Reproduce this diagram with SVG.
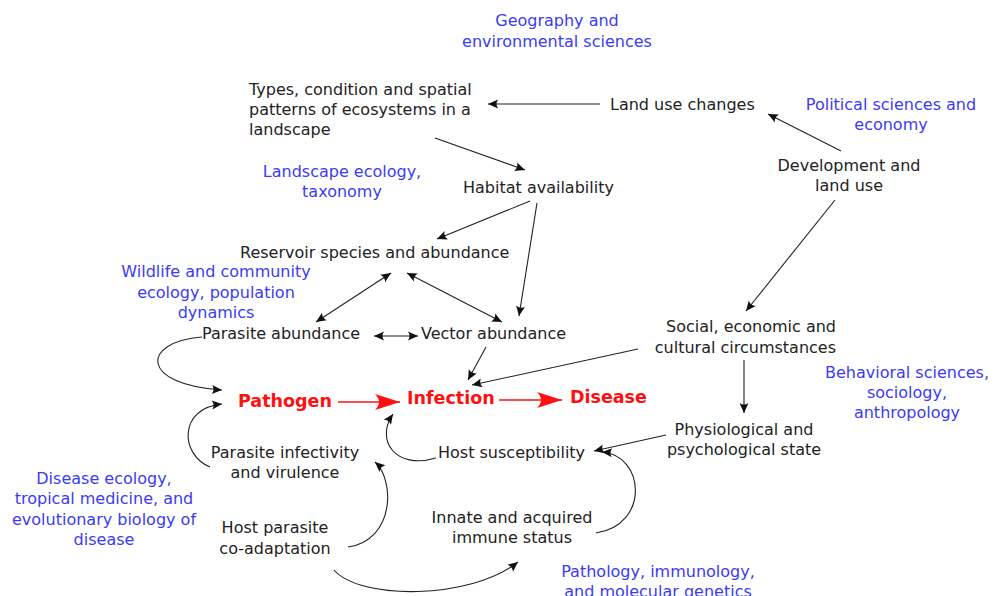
<svg xmlns="http://www.w3.org/2000/svg" width="994" height="596" viewBox="0 0 994 596">
<defs>
<style>
text{font-family:"DejaVu Sans","Liberation Sans",sans-serif;font-size:16px;fill:#222}
.b{fill:#3b3bf5}
.r{fill:#ff1010;font-weight:bold;font-size:17.5px}
.m{text-anchor:middle}
.c{fill:none;stroke:#222;stroke-width:1.1}
.rc{fill:none;stroke:#ff1010;stroke-width:1.6}
</style>
<marker id="ah" viewBox="-12 -6 14 12" markerWidth="14" markerHeight="12" refX="0" refY="0" orient="auto-start-reverse" markerUnits="userSpaceOnUse"><path d="M0,0 L-10,-4.5 Q-7,0 -10,4.5 Z" fill="#111"/></marker>
<marker id="rh" viewBox="-28 -10 30 20" markerWidth="30" markerHeight="20" refX="0" refY="0" orient="auto" markerUnits="userSpaceOnUse"><path d="M0,0 L-25,-8 Q-17,0 -25,8 Z" fill="#ff1010"/></marker>
</defs>

<g id="connectors">
<path class="c" d="M600,104 L488,104" marker-end="url(#ah)"/>
<path class="c" d="M435,138 L525,170" marker-end="url(#ah)"/>
<path class="c" d="M841,151 L768,114" marker-end="url(#ah)"/>
<path class="c" d="M835,200 L746,311" marker-end="url(#ah)"/>
<path class="c" d="M530,201 L437,239" marker-end="url(#ah)"/>
<path class="c" d="M537,203 L519,316" marker-end="url(#ah)"/>
<path class="c" d="M391,273 L316,322" marker-start="url(#ah)" marker-end="url(#ah)"/>
<path class="c" d="M407,273 L502,322" marker-start="url(#ah)" marker-end="url(#ah)"/>
<path class="c" d="M374,336 L418,336" marker-start="url(#ah)" marker-end="url(#ah)"/>
<path class="c" d="M486,347 L468,380" marker-end="url(#ah)"/>
<path class="c" d="M638,349 L472,385" marker-end="url(#ah)"/>
<path class="c" d="M744,360 L744,413" marker-end="url(#ah)"/>
<path class="c" d="M666,435 L594,451" marker-end="url(#ah)"/>
<path class="rc" d="M338,402 L400,402" marker-end="url(#rh)"/>
<path class="rc" d="M499,400 L562,400" marker-end="url(#rh)"/>
<path class="c" d="M202,337 C140,342 140,385 222,390" marker-end="url(#ah)"/>
<path class="c" d="M210,467 C180,455 178,408 222,404" marker-end="url(#ah)"/>
<path class="c" d="M436,458 C395,470 375,440 393,414" marker-end="url(#ah)"/>
<path class="c" d="M596,533 C650,525 645,455 602,452" marker-end="url(#ah)"/>
<path class="c" d="M348,547 C395,540 395,480 375,462" marker-end="url(#ah)"/>
<path class="c" d="M334,570 C360,600 470,600 518,562" marker-end="url(#ah)"/>
</g>

<g id="geography"><text class="b m" x="557" y="26">Geography and</text><text class="b m" x="557" y="47">environmental sciences</text></g>
<g id="ecosystems"><text x="249" y="95">Types, condition and spatial</text><text x="249" y="115">patterns of ecosystems in a</text><text x="249" y="135">landscape</text></g>
<g id="landuse"><text x="610" y="110">Land use changes</text></g>
<g id="political"><text class="b m" x="891" y="110">Political sciences and</text><text class="b m" x="891" y="130">economy</text></g>
<g id="development"><text class="m" x="849" y="171">Development and</text><text class="m" x="849" y="191">land use</text></g>
<g id="landscape"><text class="b m" x="342" y="177">Landscape ecology,</text><text class="b m" x="342" y="197">taxonomy</text></g>
<g id="habitat"><text x="463" y="193">Habitat availability</text></g>
<g id="reservoir"><text x="240" y="258">Reservoir species and abundance</text></g>
<g id="wildlife"><text class="b m" x="216" y="277">Wildlife and community</text><text class="b m" x="216" y="298">ecology, population</text><text class="b m" x="216" y="318">dynamics</text></g>
<g id="parasite-abundance"><text x="202" y="339">Parasite abundance</text></g>
<g id="vector"><text x="421" y="339">Vector abundance</text></g>
<g id="social"><text x="836" y="332" text-anchor="end">Social, economic and</text><text x="836" y="353" text-anchor="end">cultural circumstances</text></g>
<g id="pathogen"><text class="r" x="238" y="407">Pathogen</text></g>
<g id="infection"><text class="r" x="407" y="404">Infection</text></g>
<g id="disease"><text class="r" x="570" y="403">Disease</text></g>
<g id="behavioral"><text class="b m" x="907" y="378">Behavioral sciences,</text><text class="b m" x="907" y="398">sociology,</text><text class="b m" x="907" y="418">anthropology</text></g>
<g id="physiological"><text class="m" x="744" y="435">Physiological and</text><text class="m" x="744" y="455">psychological state</text></g>
<g id="host-susceptibility"><text x="438" y="458">Host susceptibility</text></g>
<g id="infectivity"><text class="m" x="285" y="458">Parasite infectivity</text><text class="m" x="285" y="478">and virulence</text></g>
<g id="disease-ecology"><text class="b m" x="104" y="484">Disease ecology,</text><text class="b m" x="104" y="504">tropical medicine, and</text><text class="b m" x="104" y="525">evolutionary biology of</text><text class="b m" x="104" y="545">disease</text></g>
<g id="coadaptation"><text class="m" x="275" y="533">Host parasite</text><text class="m" x="275" y="554">co-adaptation</text></g>
<g id="immune"><text class="m" x="512" y="523">Innate and acquired</text><text class="m" x="512" y="543">immune status</text></g>
<g id="pathology"><text class="b m" x="658" y="577">Pathology, immunology,</text><text class="b m" x="658" y="597">and molecular genetics</text></g>
</svg>
